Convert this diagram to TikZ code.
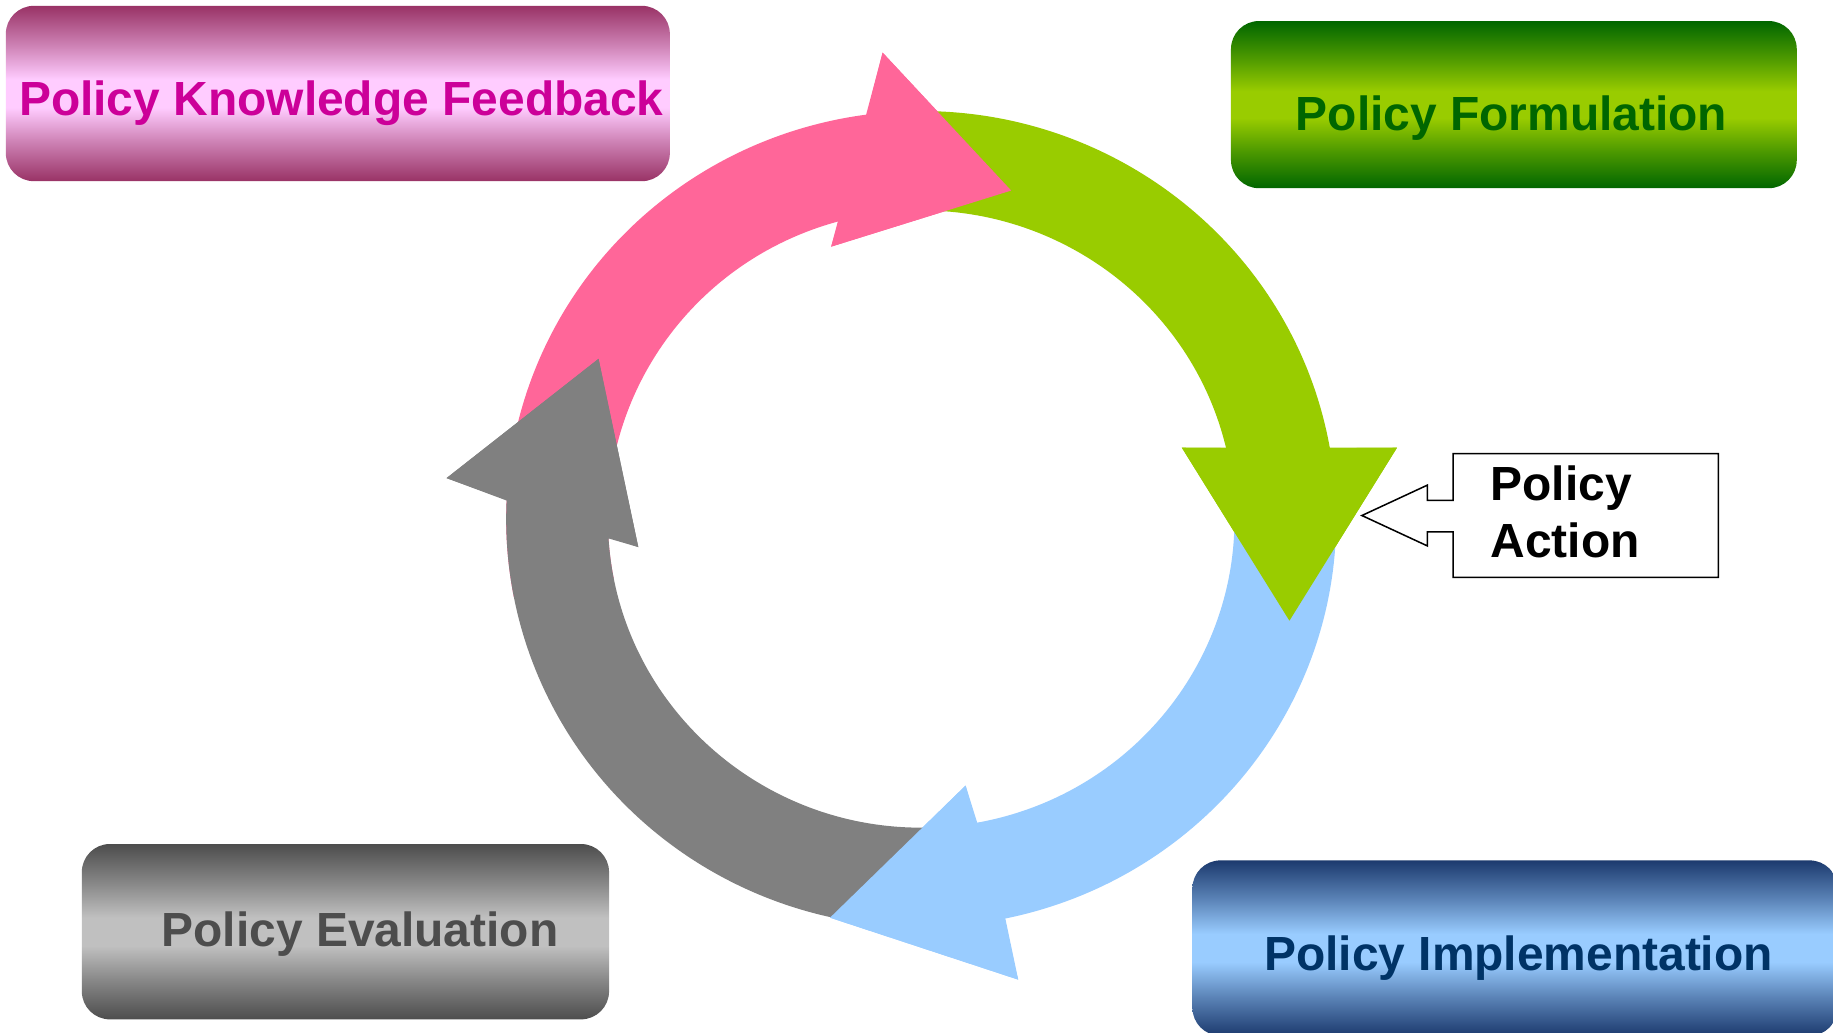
\documentclass[tikz,border=0pt]{standalone}
\usepackage{fontspec}
\setmainfont{Liberation Sans}
\usetikzlibrary{calc}
\definecolor{pinkc}{RGB}{255,102,153}
\definecolor{greenc}{RGB}{153,204,0}
\definecolor{bluec}{RGB}{153,204,255}
\definecolor{grayc}{RGB}{128,128,128}
\definecolor{pinktop}{RGB}{153,51,102}
\definecolor{pinkmid}{RGB}{255,204,255}
\definecolor{greentop}{RGB}{0,102,0}
\definecolor{greenmid}{RGB}{153,204,0}
\definecolor{graytop}{RGB}{77,77,77}
\definecolor{graymid}{RGB}{192,192,192}
\definecolor{bluetop}{RGB}{28,58,110}
\definecolor{bluemid}{RGB}{153,204,255}
\definecolor{pinktxt}{RGB}{204,0,153}
\definecolor{greentxt}{RGB}{0,102,0}
\definecolor{graytxt}{RGB}{77,77,77}
\definecolor{bluetxt}{RGB}{0,51,102}
\pgfdeclareverticalshading{pinkband}{100bp}{color(0bp)=(pinktop); color(25bp)=(pinktop); color(36bp)=(pinktop!50!pinkmid); color(46bp)=(pinkmid); color(54bp)=(pinkmid); color(64bp)=(pinktop!50!pinkmid); color(75bp)=(pinktop); color(100bp)=(pinktop)}
\pgfdeclareverticalshading{greenband}{100bp}{color(0bp)=(greentop); color(25bp)=(greentop); color(36bp)=(greentop!50!greenmid); color(46bp)=(greenmid); color(54bp)=(greenmid); color(64bp)=(greentop!50!greenmid); color(75bp)=(greentop); color(100bp)=(greentop)}
\pgfdeclareverticalshading{grayband}{100bp}{color(0bp)=(graytop); color(25bp)=(graytop); color(36bp)=(graytop!50!graymid); color(46bp)=(graymid); color(54bp)=(graymid); color(64bp)=(graytop!50!graymid); color(75bp)=(graytop); color(100bp)=(graytop)}
\pgfdeclareverticalshading{blueband}{100bp}{color(0bp)=(bluetop); color(25bp)=(bluetop); color(36bp)=(bluetop!50!bluemid); color(46bp)=(bluemid); color(54bp)=(bluemid); color(64bp)=(bluetop!50!bluemid); color(75bp)=(bluetop); color(100bp)=(bluetop)}
\begin{document}
\begin{tikzpicture}[x=1pt,y=1pt,
  lbl/.style={font=\fontsize{41}{49}\selectfont\bfseries, inner sep=0pt, anchor=base},
  ringout/.style={x radius=355pt,y radius=349pt},
  ringin/.style={x radius=268pt,y radius=264pt},
  stagebox/.style={rounded corners=24pt}
]
\useasboundingbox (0,0) rectangle (1568,883);
\clip (0,0) rectangle (1568,883);
\fill[white] (0,0) rectangle (1568,883);
\coordinate (C) at (788,439);

% boxes
\shade[stagebox, shading=pinkband] (5,728) rectangle (573,878);
\shade[stagebox, shading=greenband] (1053,722) rectangle (1537,865);
\shade[stagebox, shading=grayband] (70,11) rectangle (521,161);
\shade[stagebox, shading=blueband] (1020,-3) rectangle (1572,147);

% ring arrows
\fill[pinkc] ($(C)+(191:355pt and 349pt)$) arc[start angle=191,end angle=97.5,ringout]
  -- (755,838) -- (865,720) -- (711,672)
  -- ($(C)+(105.3:268pt and 264pt)$) arc[start angle=105.3,end angle=191,ringin] -- cycle;
\fill[greenc] ($(C)+(92:355pt and 349pt)$) arc[start angle=92,end angle=10,ringout]
  -- (1195,500) -- (1103,352) -- (1011,500)
  -- ($(C)+(13.3:268pt and 264pt)$) arc[start angle=13.3,end angle=92,ringin] -- cycle;
\fill[bluec] ($(C)+(3:355pt and 349pt)$) arc[start angle=3,end angle=-78.3,ringout]
  -- (871,45) -- (710,98) -- (826,211)
  -- ($(C)+(-79.7:268pt and 264pt)$) arc[start angle=-79.7,end angle=3,ringin] -- cycle;
\fill[grayc] ($(C)+(272:355pt and 349pt)$) arc[start angle=272,end angle=177.4,ringout]
  -- (382,474) -- (512,576) -- (546,415)
  -- ($(C)+(183.6:268pt and 264pt)$) arc[start angle=183.6,end angle=272,ringin] -- cycle;
% heads on top of the following tails
\fill[pinkc] (755,838) -- (865,720) -- (711,672) -- cycle;
\fill[greenc] (1195,500) -- (1103,352) -- (1011,500) -- cycle;
\fill[bluec] (871,45) -- (710,98) -- (826,211) -- cycle;
\fill[grayc] (382,474) -- (512,576) -- (546,415) -- cycle;

% callout
\draw[line width=1.3pt, fill=white, line join=miter]
  (1243,495) -- (1470,495) -- (1470,389) -- (1243,389) -- (1243,428)
  -- (1221,428) -- (1221,416) -- (1165,442) -- (1221,468) -- (1221,455)
  -- (1243,455) -- cycle;

% labels
\node[lbl, text=pinktxt] (fb) at (292,784) {Policy Knowledge Feedback};
\node[lbl, text=greentxt] (pf) at (1293,771) {Policy Formulation};
\node[lbl, text=graytxt] (pe) at (308,73) {Policy Evaluation};
\node[lbl, text=bluetxt] (pi) at (1299,53) {Policy Implementation};
\node[lbl, anchor=base west, text=black] (pa1) at (1275,455) {Policy};
\node[lbl, anchor=base west, text=black] (pa2) at (1275,406) {Action};
\end{tikzpicture}
\end{document}
